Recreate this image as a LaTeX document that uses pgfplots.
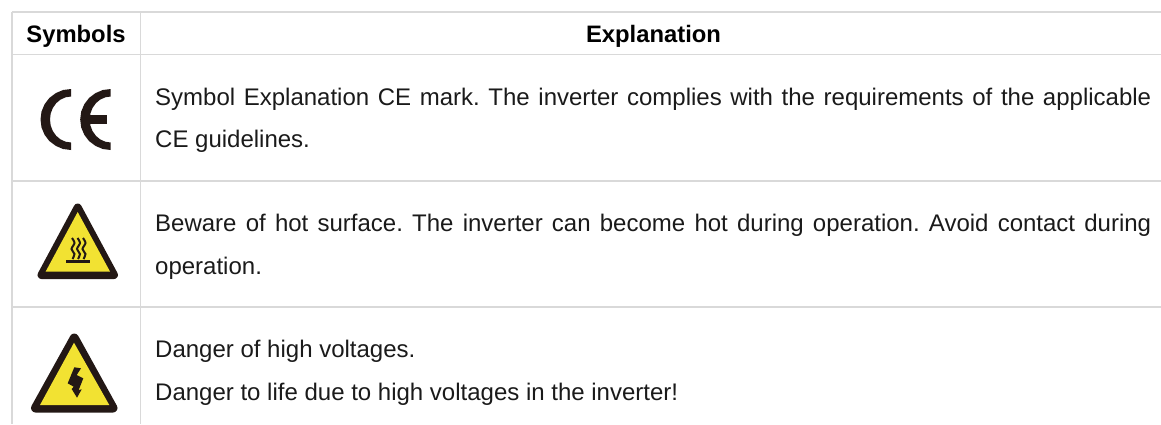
\documentclass[border=0pt]{standalone}
\usepackage{pgfplots}
\pgfplotsset{compat=1.18}
\usepackage{fontspec}
\setmainfont{Liberation Sans}
\definecolor{gl}{HTML}{D9D9D9}
\definecolor{ink}{HTML}{1A1A1A}
\definecolor{dk}{HTML}{231815}
\definecolor{yl}{HTML}{F2E232}
\newcommand{\body}{\fontsize{24}{26}\selectfont\frenchspacing\color{ink}}
\newcommand{\just}[1]{\makebox[996pt][s]{#1}}
\begin{document}
\begin{tikzpicture}[x=1pt,y=1pt]
\useasboundingbox (0,0) rectangle (1161,424);
\begin{axis}[
  at={(0,0)},anchor=south west,
  scale only axis,width=1161pt,height=424pt,
  xmin=0,xmax=1161,ymin=0,ymax=424,y dir=reverse,
  hide axis,clip=true,
  every axis plot/.append style={mark=none}]
% grid
\addplot[gl,line width=1.6pt] coordinates {(12,12) (1161,12)};
\addplot[gl,line width=1.6pt] coordinates {(12,54.5) (1161,54.5)};
\addplot[gl,line width=1.4pt] coordinates {(12,181) (1161,181)};
\addplot[gl,line width=1.4pt] coordinates {(12,307) (1161,307)};
\addplot[gl,line width=1.4pt] coordinates {(12,12) (12,424)};
\addplot[gl,line width=1.2pt] coordinates {(140.5,12) (140.5,424)};
% CE mark
\addplot[draw=none,fill=dk] coordinates {(71,89)(63.1,90)(55.8,93.1)(49.4,97.9)(44.6,104.2)(41.5,111.6)(40.5,119.5)(41.5,127.4)(44.6,134.8)(49.4,141.1)(55.8,145.9)(63.1,149)(71,150)(71,142.5)(65.6,141.7)(60.5,139.4)(56.2,135.8)(52.8,131)(50.7,125.5)(50,119.5)(50.7,113.5)(52.8,108)(56.2,103.2)(60.5,99.6)(65.6,97.3)(71,96.5)} -- cycle;
\addplot[draw=none,fill=dk] coordinates {(110.7,89)(102.8,90)(95.5,93.1)(89.1,97.9)(84.3,104.2)(81.2,111.6)(80.2,119.5)(81.2,127.4)(84.3,134.8)(89.1,141.1)(95.5,145.9)(102.8,149)(110.7,150)(110.7,142.5)(105.3,141.7)(100.2,139.4)(95.9,135.8)(92.5,131)(90.4,125.5)(89.7,119.5)(90.4,113.5)(92.5,108)(95.9,103.2)(100.2,99.6)(105.3,97.3)(110.7,96.5)} -- cycle;
\addplot[dk,line width=8.5pt] coordinates {(85,119.5)(107,119.5)};
% hot surface
\addplot[dk,fill=dk,line width=8pt,line join=round] coordinates {(77.7,207.5)(41.5,275)(114,275)} -- cycle;
\addplot[draw=none,fill=yl] coordinates {(77.7,212)(45.7,271.5)(110,271.5)} -- cycle;
\addplot[dk,line width=2.8pt] coordinates {(66,261.3)(89.5,261.3)};
\addplot[dk,line width=2pt,smooth] coordinates {(72,238)(74.5,243)(71.5,249)(74.5,254)(72.5,259)};
\addplot[dk,line width=2pt,smooth] coordinates {(77.5,238)(80,243)(77,249)(80,254)(78,259)};
\addplot[dk,line width=2pt,smooth] coordinates {(83,238)(85.5,243)(82.5,249)(85.5,254)(83.5,259)};
% high voltage
\addplot[dk,fill=dk,line width=9pt,line join=round] coordinates {(74.3,338)(35.5,408)(113,408)} -- cycle;
\addplot[draw=none,fill=yl] coordinates {(74,342.7)(40,405)(109.3,405)} -- cycle;
\addplot[draw=none,fill=dk] coordinates {(74.3,367.3)(67.7,383.3)(73.7,386.7)(71.7,389)(77,397.7)(81.7,389.3)(78.7,390)(83.3,378.3)(76.7,375)(81,368.3)} -- cycle;
% text
\node[anchor=base] at (axis cs:76,42) {\fontsize{23.8}{26}\selectfont\bfseries\color{black}Symbols};
\node[anchor=base] at (axis cs:653.5,42) {\fontsize{23.8}{26}\selectfont\bfseries\color{black}Explanation};
\node[anchor=base west,inner sep=0pt] at (axis cs:155,105) {\body\just{Symbol Explanation CE mark. The inverter complies with the requirements of the applicable}};
\node[anchor=base west,inner sep=0pt] at (axis cs:155,147.5) {\body CE guidelines.};
\node[anchor=base west,inner sep=0pt] at (axis cs:155,231.5) {\body\just{Beware of hot surface. The inverter can become hot during operation. Avoid contact during}};
\node[anchor=base west,inner sep=0pt] at (axis cs:155,274) {\body operation.};
\node[anchor=base west,inner sep=0pt] at (axis cs:155,357) {\body Danger of high voltages.};
\node[anchor=base west,inner sep=0pt] at (axis cs:155,400) {\body Danger to life due to high voltages in the inverter!};
\end{axis}
\end{tikzpicture}
\end{document}
